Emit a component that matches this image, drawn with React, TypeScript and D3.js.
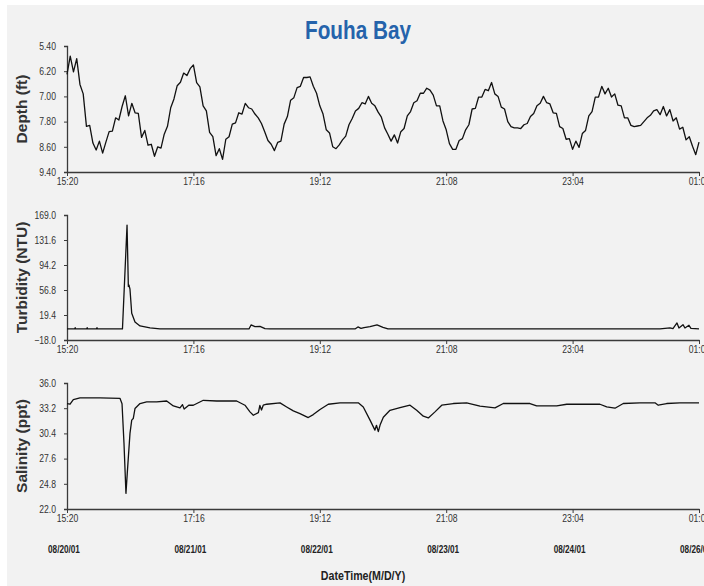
import React, { useEffect, useRef } from "react";
import * as d3 from "d3";

// x axis is in minutes from 15:20 (ticks every 116 min)
const xTickLabels = ["15:20", "17:16", "19:12", "21:08", "23:04", "01:00"];
const xTickValues = [0, 116, 232, 348, 464, 580];
const dateLabels = ["08/20/01", "08/21/01", "08/22/01", "08/23/01", "08/24/01", "08/26/01"];

const depthTicks = [5.4, 6.2, 7.0, 7.8, 8.6, 9.4];
const turbTicks = [-18.0, 19.4, 56.8, 94.2, 131.6, 169.0];
const salTicks = [22.0, 24.8, 27.6, 30.4, 33.2, 36.0];

// depth (ft), evenly sampled over the whole record
const depthValues = [
  6.3, 5.72, 6.22, 5.8, 6.62, 6.92, 7.95, 7.92, 8.48, 8.7, 8.42, 8.8, 8.45, 8.12, 8.1, 7.68,
  7.75, 7.32, 6.98, 7.62, 7.22, 7.52, 7.54, 8.3, 8.08, 8.55, 8.52, 8.9, 8.6, 8.64, 8.2, 7.95,
  7.36, 7.08, 6.66, 6.55, 6.26, 6.34, 6.12, 6.0, 6.56, 6.7, 7.3, 7.46, 8.14, 8.28, 8.88,
  8.66, 9.0, 8.36, 8.28, 7.88, 7.84, 7.52, 7.56, 7.22, 7.36, 7.4, 7.56, 7.68, 7.86, 8.12, 8.4,
  8.52, 8.72, 8.46, 8.42, 7.88, 7.64, 7.12, 7.04, 6.72, 6.68, 6.4, 6.4, 6.38, 6.68, 6.9,
  7.3, 7.56, 8.06, 8.16, 8.6, 8.66, 8.54, 8.38, 8.26, 7.9, 7.7, 7.46, 7.38, 7.2, 7.24,
  7.0, 7.22, 7.3, 7.5, 7.66, 8.0, 8.2, 8.42, 8.22, 8.48, 8.12, 8.02, 7.62, 7.48, 7.2,
  7.14, 6.9, 6.9, 6.74, 6.8, 6.96, 7.3, 7.3, 7.78, 8.06, 8.5, 8.68, 8.68, 8.4, 8.34,
  8.06, 7.9, 7.4, 7.38, 7.02, 7.02, 6.78, 6.82, 6.56, 6.92, 7.0, 7.34, 7.4, 7.8, 7.96,
  8.0, 8.0, 8.02, 7.9, 7.86, 7.64, 7.54, 7.3, 7.22, 7.0, 7.2, 7.24, 7.52, 7.54, 7.96, 8.02,
  8.36, 8.34, 8.68, 8.42, 8.62, 8.18, 8.08, 7.62, 7.48, 7.02, 7.02, 6.68, 6.92, 6.74, 7.02,
  6.92, 7.28, 7.3, 7.68, 7.68, 7.92, 7.96, 7.94, 7.92, 7.8, 7.68, 7.6, 7.46, 7.42, 7.58,
  7.32, 7.62, 7.42, 7.78, 7.68, 8.04, 7.98, 8.38, 8.28, 8.58, 8.85, 8.45,
];

// turbidity (NTU)
const turbTime = [
  0, 7, 7.5, 8, 18, 18.5, 19, 27, 27.5, 28, 50.9, 55.1, 56.3, 56.9, 57.8, 59.4, 62.4, 67,
  76.2, 85.3, 167, 168.9, 172.5, 177.1, 181.7, 186.3, 264.3, 267, 269.8, 272.6, 278.1,
  284.5, 290, 294.6, 544.2, 553.4, 556.1, 559.8, 561.6, 565.3, 567.1, 570.8, 572.6, 580,
];
const turbValues = [
  -1.5, -1.5, 0.5, -1.5, -1.5, 0.5, -1.5, -1.5, 0.5, -1.5, -1.5, 154, 62, 64, 58, 22, 9, 3,
  0, -1.5, -1.5, 4.5, 2, 2.5, -1, -1.5, -1.5, 1.5, -0.5, 0.5, 2, 4.5, 1, -1.5, -1.5, 0, -1,
  7.5, 0, 5, 0, 4, -0.5, -1.5,
];

// salinity (ppt)
const salTime = [
  0, 2.8, 5.8, 11.9, 30.3, 48.6, 50.5, 52.3, 54.1, 55.3, 57.8, 59.4, 60.8, 62.4, 67, 73.1,
  82.3, 91.5, 97.6, 103.7, 106, 107.5, 109.8, 112, 115.9, 125.1, 137.4, 155.7, 163.3, 167.9,
  171, 175.6, 177, 178.5, 180.1, 183.3, 195.5, 201.6, 207.7, 213.8, 221.4, 226, 232.2, 239.8,
  250.5, 262.7, 267.3, 271.9, 278.1, 282.6, 284, 285.7, 287.5, 290.3, 296.4, 305.6, 314.8,
  320.9, 327, 331.6, 337.7, 343.9, 354.5, 366.8, 379, 392.8, 400.4, 424.9, 431, 449.4, 458.6,
  489.1, 495.3, 502.9, 510.5, 525.8, 539.6, 542.6, 550.3, 562.5, 580,
];
const salValues = [
  33.72, 33.64, 34.16, 34.34, 34.34, 34.3, 33.7, 29.3, 23.74, 25.96, 30.4, 31.87, 32.05, 33.16,
  33.72, 33.9, 33.9, 34.0, 33.45, 33.23, 33.6, 33.1, 33.34, 33.55, 33.53, 34.08, 34.0, 34.0,
  33.53, 32.79, 32.42, 32.71, 33.5, 33.0, 33.53, 33.64, 33.79, 33.34, 32.9, 32.6, 32.16, 32.49,
  33.05, 33.64, 33.79, 33.79, 33.8, 33.34, 31.87, 30.76, 31.3, 30.6, 31.4, 32.2, 32.97, 33.27,
  33.53, 32.97, 32.31, 32.12, 32.79, 33.53, 33.72, 33.79, 33.42, 33.23, 33.72, 33.72, 33.45,
  33.45, 33.64, 33.64, 33.34, 33.2, 33.72, 33.8, 33.8, 33.53, 33.72, 33.79, 33.8,
];

const W = 704;
const H = 586;
const LEFT = 67;
const RIGHT = 699;
const SQUEEZE = 0.82; // the source fonts are narrow
const FONT = "'Liberation Sans', Arial, sans-serif";

const App = () => {
  const ref = useRef<SVGSVGElement>(null);

  useEffect(() => {
    const svg = d3.select(ref.current);
    svg.selectAll("*").remove();

    svg.append("rect").attr("x", 7).attr("y", 5).attr("width", W - 7).attr("height", H - 5).attr("fill", "#f2f2f2");

    svg
      .append("text")
      .attr("x", 305)
      .attr("y", 39)
      .attr("textLength", 106)
      .attr("lengthAdjust", "spacingAndGlyphs")
      .attr("font-family", FONT)
      .attr("font-weight", "bold")
      .attr("font-size", 25)
      .attr("fill", "#2563ab")
      .text("Fouha Bay");

    const x = d3.scaleLinear().domain([0, 580]).range([LEFT, RIGHT]);

    const panels = [
      { title: "Depth (ft)", top: 46, bottom: 172, domain: [9.4, 5.4], ticks: depthTicks, fmt: ".2f",
        time: depthValues.map((d, i) => (i * 580) / (depthValues.length - 1)), values: depthValues },
      { title: "Turbidity (NTU)", top: 215, bottom: 340, domain: [-18, 169], ticks: turbTicks, fmt: ".1f",
        time: turbTime, values: turbValues },
      { title: "Salinity (ppt)", top: 383, bottom: 509, domain: [22, 36], ticks: salTicks, fmt: ".1f",
        time: salTime, values: salValues },
    ];

    panels.forEach((p) => {
      const y = d3.scaleLinear().domain(p.domain).range([p.bottom, p.top]);
      const g = svg.append("g");

      const yAxis = g
        .append("g")
        .attr("transform", `translate(${LEFT},0)`)
        .call(d3.axisLeft(y).tickValues(p.ticks).tickFormat(d3.format(p.fmt)).tickSize(3).tickPadding(10.5));
      yAxis.select(".domain").attr("stroke", "#3a3a3a").attr("stroke-width", 1.3);
      yAxis.selectAll(".tick line").attr("stroke", "#3a3a3a");
      yAxis
        .selectAll("text")
        .attr("transform", `scale(${SQUEEZE},1)`)
        .attr("font-family", FONT)
        .attr("font-size", 10.5)
        .attr("fill", "#333");

      const xAxis = g
        .append("g")
        .attr("transform", `translate(0,${p.bottom})`)
        .call(
          d3.axisBottom(x).tickValues(xTickValues).tickFormat((d, i) => xTickLabels[i]).tickSize(4).tickSizeOuter(0).tickPadding(2)
        );
      xAxis.select(".domain").attr("stroke", "#3a3a3a").attr("stroke-width", 1.3);
      xAxis.selectAll(".tick line").attr("stroke", "#3a3a3a");
      xAxis
        .selectAll("text")
        .attr("transform", `scale(${SQUEEZE},1)`)
        .attr("font-family", FONT)
        .attr("font-size", 10.5)
        .attr("fill", "#333");

      const line = d3
        .line<number>()
        .x((d, i) => x(p.time[i]))
        .y((d) => y(d));
      g.append("path")
        .datum(p.values)
        .attr("fill", "none")
        .attr("stroke", "#111")
        .attr("stroke-width", 1.3)
        .attr("stroke-linejoin", "round")
        .attr("d", line);

      g.append("text")
        .attr("transform", `translate(27,${(p.top + p.bottom) / 2}) rotate(-90)`)
        .attr("text-anchor", "middle")
        .attr("font-family", FONT)
        .attr("font-weight", "bold")
        .attr("font-size", 15.5)
        .attr("fill", "#333")
        .text(p.title);
    });

    svg
      .append("g")
      .selectAll("text")
      .data(dateLabels)
      .join("text")
      .attr("transform", (d, i) => `translate(${x(xTickValues[i]) - 3},553) scale(${SQUEEZE},1)`)
      .attr("text-anchor", "middle")
      .attr("font-family", FONT)
      .attr("font-weight", "bold")
      .attr("font-size", 10)
      .attr("fill", "#222")
      .text((d) => d);

    svg
      .append("text")
      .attr("transform", `translate(363,580) scale(${SQUEEZE},1)`)
      .attr("text-anchor", "middle")
      .attr("font-family", FONT)
      .attr("font-weight", "bold")
      .attr("font-size", 13)
      .attr("fill", "#222")
      .text("DateTime(M/D/Y)");
  }, []);

  return (
    <div style={{ position: "absolute", left: 0, top: 0 }}>
      <svg ref={ref} width={W} height={H} style={{ display: "block", background: "#fff" }} />
    </div>
  );
};

export default App;
